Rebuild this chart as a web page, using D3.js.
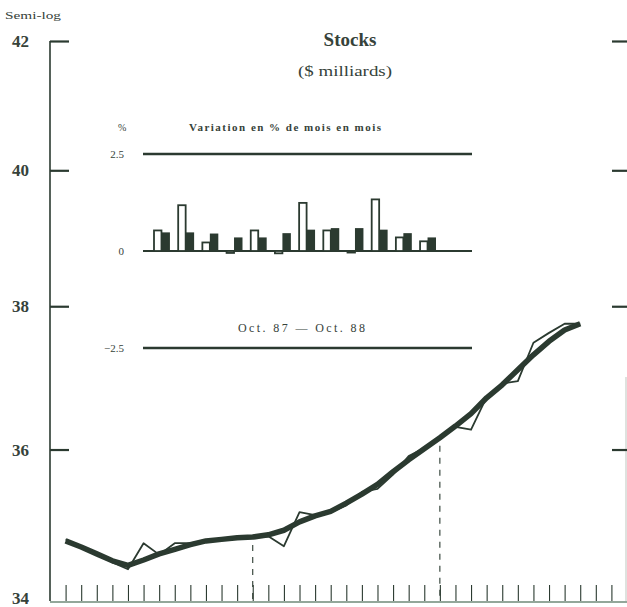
<!DOCTYPE html>
<html><head><meta charset="utf-8">
<script src="https://cdn.jsdelivr.net/npm/d3@7"></script>
<style>body{margin:0;background:#fff}svg{display:block}</style>
</head><body>
<script>
// ---- data ----
const months = d3.range(1, 35);               // monthly positions along the time axis
const trend = [34.78,34.70,34.61,34.52,34.46,34.53,34.61,34.67,34.73,34.78,34.80,34.82,34.83,34.86,34.92,35.03,35.11,35.17,35.28,35.40,35.53,35.70,35.86,36.01,36.16,36.32,36.49,36.71,36.89,37.10,37.31,37.50,37.66,37.75];
const actual = [34.80,34.69,34.60,34.50,34.41,34.75,34.60,34.75,34.75,34.78,34.80,34.82,34.83,34.84,34.71,35.16,35.12,35.16,35.25,35.43,35.47,35.66,35.91,36.02,36.17,36.31,36.27,36.72,36.91,36.94,37.48,37.62,37.75,37.75];
const yTicks = [42, 40, 38, 36, 34];
const xTickMonths = d3.range(1, 37);
const yearBreaks = [13, 25];
const insetMonths = d3.range(1, 13);
const insetWhite = [0.53,1.18,0.22,-0.05,0.53,-0.06,1.24,0.53,-0.04,1.33,0.35,0.25];
const insetBlack = [0.48,0.48,0.45,0.35,0.35,0.46,0.55,0.59,0.59,0.55,0.46,0.35];
const insetTicks = [2.5, 0, -2.5];

const W = 627, H = 607;
const ink = "#2b3a30", txt = "#36423a";
const svg = d3.select("body").append("svg").attr("width", W).attr("height", H);
const serif = "'Liberation Serif','DejaVu Serif',serif";

const x = d3.scaleLinear().domain([0, 37]).range([50, 627]);
const y = d3.scaleLog().domain([34, 42]).range([601, 41]);

// axes frame
svg.append("line").attr("x1", 50).attr("x2", 50).attr("y1", y(42)).attr("y2", y(34)).attr("stroke", ink).attr("stroke-width", 1.6);
svg.append("line").attr("x1", 626).attr("x2", 626).attr("y1", y(37)).attr("y2", y(34)).attr("stroke", "#c9cfc9").attr("stroke-width", 1.2);
svg.append("line").attr("x1", 50).attr("x2", 627).attr("y1", y(34)+1).attr("y2", y(34)+1).attr("stroke", "#6f8a78").attr("stroke-width", 1.4);

const yAxisL = d3.axisRight(y).tickValues(yTicks.filter(v => v !== 34)).tickSize(19).tickFormat("");
const gL = svg.append("g").attr("transform", "translate(50,0)").call(yAxisL);
gL.select(".domain").remove();
gL.selectAll("line").attr("stroke", ink).attr("stroke-width", 2.2);

const yAxisR = d3.axisLeft(y).tickValues(yTicks.filter(v => v !== 34)).tickSize(15).tickFormat("");
const gR = svg.append("g").attr("transform", "translate(627,0)").call(yAxisR);
gR.select(".domain").remove();
gR.selectAll("line").attr("stroke", ink).attr("stroke-width", 2.2);

svg.append("g").selectAll("text").data(yTicks).join("text")
  .attr("x", 29).attr("y", d => Math.min(y(d) + 6, 604)).attr("text-anchor", "end")
  .attr("font-family", serif).attr("font-size", 17).attr("font-weight", "bold")
  .attr("fill", txt).text(d => d);

svg.append("text").attr("x", 5).attr("y", 19).attr("font-family", serif).attr("font-size", 11)
  .attr("textLength", 56).attr("lengthAdjust", "spacingAndGlyphs")
  .attr("fill", txt).text("Semi-log");

// bottom month ticks
const xAxis = d3.axisTop(x).tickValues(xTickMonths).tickSize(16).tickFormat("");
const gx = svg.append("g").attr("transform", `translate(0,${y(34)})`).call(xAxis);
gx.select(".domain").remove();
gx.selectAll("line").attr("stroke", ink).attr("stroke-width", 1.1);

// year separators (dashed)
svg.append("g").selectAll("line").data(yearBreaks).join("line")
  .attr("x1", d => x(d)).attr("x2", d => x(d))
  .attr("y1", d => y(trend[d - 1]) + 8).attr("y2", y(34))
  .attr("stroke", ink).attr("stroke-width", 1.1).attr("stroke-dasharray", "6,6");

// titles
svg.append("text").attr("x", 350).attr("y", 46).attr("text-anchor", "middle")
  .attr("font-family", serif).attr("font-size", 19).attr("font-weight", "bold").attr("fill", txt).text("Stocks");
svg.append("text").attr("x", 345).attr("y", 76).attr("text-anchor", "middle")
  .attr("font-family", serif).attr("font-size", 15).attr("fill", txt)
  .attr("textLength", 94).attr("lengthAdjust", "spacingAndGlyphs").text("($ milliards)");

// lines
const line = d3.line().x((d, i) => x(months[i])).y(d => y(d)).curve(d3.curveLinear);
svg.append("path").datum(trend).attr("d", line).attr("fill", "none")
  .attr("stroke", ink).attr("stroke-width", 5.5).attr("stroke-linejoin", "round").attr("stroke-linecap", "butt");
svg.append("path").datum(actual).attr("d", line).attr("fill", "none")
  .attr("stroke", ink).attr("stroke-width", 1.8).attr("stroke-linejoin", "round");

// ---- inset ----
const iy = d3.scaleLinear().domain([-2.5, 2.5]).range([348, 154]);
const ix = d3.scaleBand().domain(insetMonths).range([153, 436]).paddingInner(0.3).paddingOuter(0);
svg.append("g").selectAll("line").data(insetTicks).join("line")
  .attr("x1", 143).attr("x2", 472).attr("y1", d => iy(d)).attr("y2", d => iy(d))
  .attr("stroke", ink).attr("stroke-width", d => d === 0 ? 2 : 2.6);
svg.append("g").selectAll("text").data(insetTicks).join("text")
  .attr("x", 124).attr("y", d => iy(d) + 4).attr("text-anchor", "end")
  .attr("font-family", serif).attr("font-size", 11).attr("fill", txt)
  .text(d => d === 0 ? "0" : (d < 0 ? "−2.5" : "2.5"));
svg.append("text").attr("x", 118).attr("y", 131).attr("font-family", serif).attr("font-size", 10).attr("fill", txt).text("%");
svg.append("text").attr("x", 189).attr("y", 131).attr("font-family", serif)
  .attr("font-size", 11).attr("font-weight", "bold").attr("fill", txt)
  .attr("textLength", 192).attr("lengthAdjust", "spacing").text("Variation en % de mois en mois");
svg.append("text").attr("x", 238).attr("y", 332).attr("font-family", serif)
  .attr("font-size", 12).attr("fill", txt)
  .attr("textLength", 127).attr("lengthAdjust", "spacing").text("Oct. 87 — Oct. 88");

const bw = ix.bandwidth() / 2;
svg.append("g").selectAll("rect").data(insetWhite).join("rect")
  .attr("x", (d, i) => ix(insetMonths[i]) + 1).attr("width", bw - 1)
  .attr("y", d => Math.min(iy(d), iy(0))).attr("height", d => Math.abs(iy(d) - iy(0)))
  .attr("fill", "#fff").attr("stroke", ink).attr("stroke-width", 1.8);
svg.append("g").selectAll("rect").data(insetBlack).join("rect")
  .attr("x", (d, i) => ix(insetMonths[i]) + bw).attr("width", bw)
  .attr("y", d => iy(d)).attr("height", d => iy(0) - iy(d))
  .attr("fill", ink);
</script>
</body></html>
